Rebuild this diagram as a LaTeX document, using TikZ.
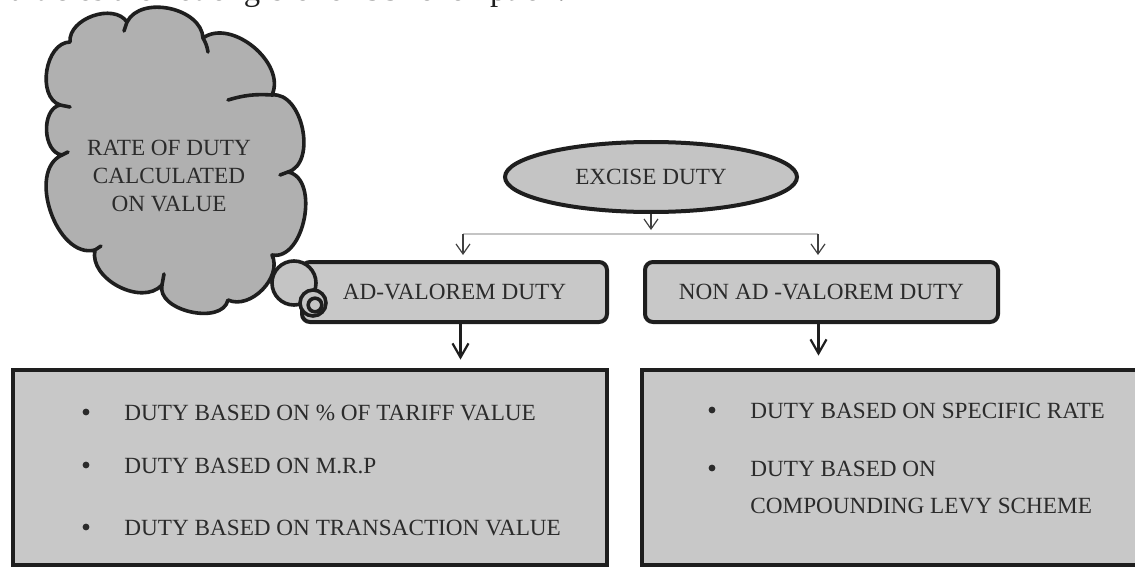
\documentclass[tikz,border=0pt]{standalone}
\usepackage{fontspec}
\setmainfont{Liberation Serif}
\usetikzlibrary{arrows.meta,shapes.geometric,calc}
\definecolor{cloudgray}{HTML}{B0B0B0}
\definecolor{boxgray}{HTML}{C8C8C8}
\definecolor{ellgray}{HTML}{C4C4C4}
\definecolor{ink}{HTML}{1E1E1E}
\definecolor{txt}{HTML}{2B2B2B}
\definecolor{linegray}{HTML}{C4C4C4}
\begin{document}
\begin{tikzpicture}[x=0.5pt,y=-0.5pt,
  lbl/.style={font=\fontsize{11.6}{14}\selectfont, text=txt, inner sep=0pt},
  topbox/.style={draw=ink, line width=2pt, fill=boxgray, rounded corners=4pt, minimum height=30pt, inner sep=0pt, lbl},
  listbox/.style={draw=ink, line width=2.4pt, fill=boxgray, inner sep=0pt},
  bul/.style={circle, fill=txt, minimum size=3.4pt, inner sep=0pt},
  thinarrow/.style={draw=ink!85, line width=0.6pt, -{Straight Barb[length=5pt,width=7pt]}},
  thickarrow/.style={draw=ink, line width=1.1pt, -{Straight Barb[length=7pt,width=8pt]}},
  cloudline/.style={draw=ink, line width=1.8pt, line join=round, line cap=round}
]
\useasboundingbox (0,0) rectangle (1135,567);
\fill[white] (0,0) rectangle (1135,567);

% header line (cut by the page edge)
\node[anchor=base west, inner sep=0pt, text=ink] (hdr) at (10,1)
  {\resizebox{277.5pt}{!}{articles are not eligible for SSI exemption.}};

% list boxes
\node[listbox, minimum width=297pt, minimum height=97.5pt] (lb) at (310,467.5) {};
\node[listbox, minimum width=251.5pt, minimum height=97.5pt] (rb) at (893.5,467.5) {};

% top boxes
\node[topbox, minimum width=152.5pt] (ad) at (454.5,292) {AD-VALOREM DUTY};
\node[topbox, minimum width=176.5pt] (non) at (821.5,292) {NON AD -VALOREM DUTY};

% ellipse
\node[ellipse, draw=ink, line width=2pt, fill=ellgray, minimum width=146pt, minimum height=35pt, inner sep=0pt, lbl] (ex) at (651,177) {EXCISE DUTY};

% connectors
\coordinate (j) at (651,234);
\coordinate (jl) at (463,234);
\coordinate (jr) at (818,234);
\draw[thinarrow, shorten >=2pt] (ex.south) -- (j);
\draw[linegray, line width=0.9pt] (jl) -- (jr);
\draw[thinarrow, shorten >=2.5pt] (jl) -- (jl |- ad.north);
\draw[thinarrow, shorten >=2.5pt] (jr) -- (jr |- non.north);
\draw[thickarrow, shorten >=4pt] ([xshift=3pt]ad.south) -- ([xshift=3pt]ad.south |- lb.north);
\draw[thickarrow, shorten >=6pt] ([xshift=-1.5pt]non.south) -- ([xshift=-1.5pt]non.south |- rb.north);

% cloud
\path[cloudline, fill=cloudgray]
 (70,42) to[bend left=75] (127,22) to[bend left=75] (203,38) to[bend left=75] (272,95)
 to[bend left=85] (288,172) to[bend left=90] (272,255) to[bend left=70] (228,300)
 to[bend left=90] (162,285) to[bend left=75] (95,250) to[bend left=85] (62,155)
 to[bend left=80] (60,105) to[bend left=80] cycle;
\draw[cloudline] (127,22) -- (124,31);
\draw[cloudline] (203,38) to[bend left=10] (208,52);
\draw[cloudline] (272,95) to[bend right=10] (228,100);
\draw[cloudline] (288,172) -- (280,175);
\draw[cloudline] (162,285) -- (164,274);
\draw[cloudline] (95,250) -- (101,246);
\draw[cloudline] (62,155) -- (68,152);
\draw[cloudline] (60,105) -- (70,107);

% thought bubbles
\draw[cloudline, fill=ellgray] (294,283) circle[radius=11pt];
\draw[cloudline, fill=ellgray] (313,303) circle[radius=6.5pt];
\draw[cloudline] (315,305) circle[radius=3.4pt];

\node[lbl, align=center] (cl) at (169,176) {RATE OF DUTY\\CALCULATED\\ON VALUE};

% left list
\node[bul] (b1) at (86,412) {};
\node[bul] (b2) at (86,465) {};
\node[bul] (b3) at (86,527) {};
\node[lbl, anchor=base west] (l1) at (124,420) {DUTY BASED ON \% OF TARIFF VALUE};
\node[lbl, anchor=base west] (l2) at (124,473) {DUTY BASED ON M.R.P};
\node[lbl, anchor=base west] (l3) at (124,535) {DUTY BASED ON TRANSACTION VALUE};

% right list
\node[bul] (b4) at (712,410) {};
\node[bul] (b5) at (712,468) {};
\node[lbl, anchor=base west] (r1) at (750,418) {DUTY BASED ON SPECIFIC RATE};
\node[lbl, anchor=base west] (r2) at (750,476) {DUTY BASED ON};
\node[lbl, anchor=base west] (r3) at (750,513) {COMPOUNDING LEVY SCHEME};
\end{tikzpicture}
\end{document}
